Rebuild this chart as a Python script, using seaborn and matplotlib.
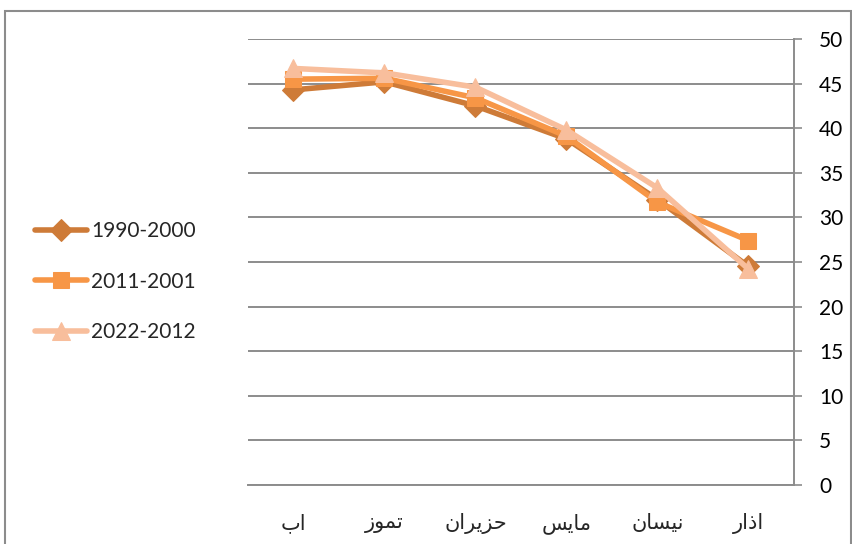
import numpy as np
import pandas as pd
import matplotlib
matplotlib.use('Agg')
import matplotlib.pyplot as plt
import seaborn as sns
from matplotlib.patches import Rectangle

# Data
months = ['اب', 'تموز', 'حزيران', 'مايس', 'نيسان', 'اذار']
series_names = ['1990-2000', '2011-2001', '2022-2012']
s1990_2000 = [44.3, 45.2, 42.5, 38.8, 32.0, 24.5]
s2001_2011 = [45.5, 45.6, 43.4, 39.1, 31.7, 27.4]
s2012_2022 = [46.7, 46.2, 44.6, 39.8, 33.3, 24.2]
y_ticks = [0, 5, 10, 15, 20, 25, 30, 35, 40, 45, 50]

# matplotlib does not shape Arabic, so map letters to presentation forms
# (isolated, final, initial, medial) and reverse to visual order
FORMS = {
    'ا': ('\uFE8D', '\uFE8E', None, None),
    'ب': ('\uFE8F', '\uFE90', '\uFE91', '\uFE92'),
    'ت': ('\uFE95', '\uFE96', '\uFE97', '\uFE98'),
    'ح': ('\uFEA1', '\uFEA2', '\uFEA3', '\uFEA4'),
    'ذ': ('\uFEAB', '\uFEAC', None, None),
    'ر': ('\uFEAD', '\uFEAE', None, None),
    'ز': ('\uFEAF', '\uFEB0', None, None),
    'س': ('\uFEB1', '\uFEB2', '\uFEB3', '\uFEB4'),
    'م': ('\uFEE1', '\uFEE2', '\uFEE3', '\uFEE4'),
    'ن': ('\uFEE5', '\uFEE6', '\uFEE7', '\uFEE8'),
    'و': ('\uFEED', '\uFEEE', None, None),
    'ي': ('\uFEF1', '\uFEF2', '\uFEF3', '\uFEF4'),
}


def shape_arabic(word):
    out = []
    for i, ch in enumerate(word):
        if ch not in FORMS:
            out.append(ch)
            continue
        prev = word[i - 1] if i > 0 else None
        nxt = word[i + 1] if i + 1 < len(word) else None
        joins_prev = prev in FORMS and FORMS[prev][2] is not None
        joins_next = nxt in FORMS and FORMS[ch][2] is not None
        iso, fin, ini, med = FORMS[ch]
        if joins_prev and joins_next:
            out.append(med)
        elif joins_prev:
            out.append(fin)
        elif joins_next:
            out.append(ini)
        else:
            out.append(iso)
    return ''.join(reversed(out))


df = pd.DataFrame({
    'month': pd.Categorical(months * 3, categories=months, ordered=True),
    'value': s1990_2000 + s2001_2011 + s2012_2022,
    'period': np.repeat(series_names, len(months)),
})
df['pos'] = df['month'].cat.codes

colors = ['#CE7B38', '#F79646', '#F8BE9C']
markers = ['D', 's', '^']
msizes = [11, 12, 13]

sns.set_style('white')
plt.rcParams['font.family'] = ['Lato', 'DejaVu Sans']

fig = plt.figure(figsize=(8.53, 5.44), dpi=100)
ax = fig.add_axes([248 / 853, 59 / 544, 546 / 853, 446 / 544])

for name, col, mk, ms in zip(series_names, colors, markers, msizes):
    sub = df[df['period'] == name]
    sns.lineplot(data=sub, x='pos', y='value', color=col, marker=mk,
                 markersize=ms, markeredgecolor=col, linewidth=4,
                 label=name, ax=ax, sort=False)

ax.set_xlim(-0.5, len(months) - 0.5)
ax.set_ylim(0, 50)
ax.set_xlabel('')
ax.set_ylabel('')

grid_col = '#8C8C8C'
ax.yaxis.tick_right()
ax.set_yticks(y_ticks)
ax.set_yticklabels([str(t) for t in y_ticks], fontsize=15)
ax.tick_params(axis='y', length=6, width=1.2, color=grid_col, pad=12,
               labelcolor='black')
ax.grid(axis='y', color=grid_col, linewidth=1.4)
ax.set_axisbelow(True)

ax.set_xticks(np.arange(-0.5, len(months)), minor=True)
ax.set_xticks(np.arange(len(months)))
ax.set_xticklabels([shape_arabic(m) for m in months], fontsize=15,
                   family=['DejaVu Sans'])
ax.tick_params(axis='x', which='major', length=0, pad=20)
ax.tick_params(axis='x', which='minor', length=7, width=1.2, color=grid_col)

for side in ['top', 'left']:
    ax.spines[side].set_visible(False)
for side in ['bottom', 'right']:
    ax.spines[side].set_color(grid_col)
    ax.spines[side].set_linewidth(1.4)

leg = ax.legend(loc='center left', bbox_to_anchor=(-232 / 546, 0.456),
                frameon=False, fontsize=15, handlelength=2.5,
                labelspacing=1.45, handletextpad=0.2)

# outer chart frame
fig.patches.append(Rectangle((5 / 853, -0.02), 846 / 853, 1.02 - 11 / 544,
                             transform=fig.transFigure, fill=False,
                             edgecolor='#8C8C8C', linewidth=1.5))

fig.savefig('out.png', dpi=100)
